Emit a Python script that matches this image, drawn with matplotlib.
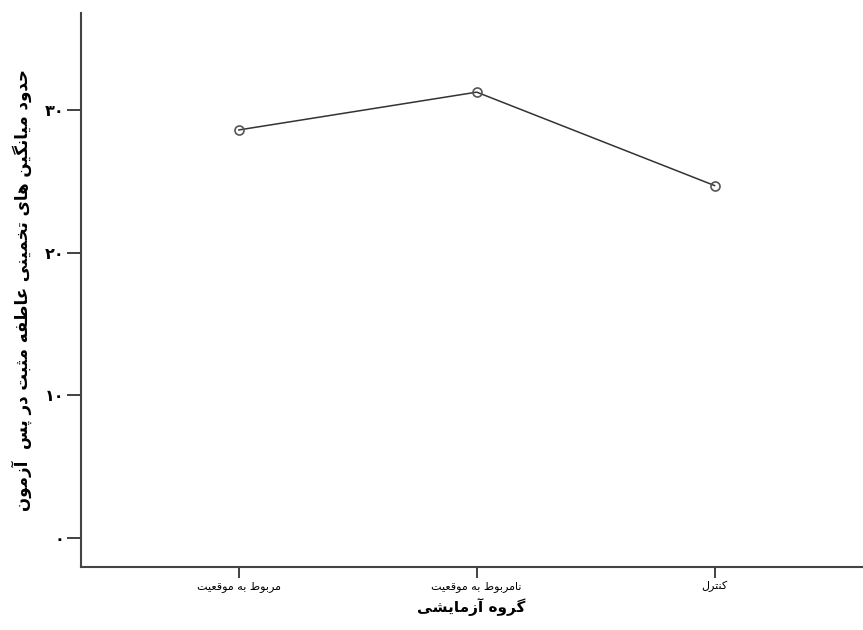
#!/usr/bin/env python3
"""Profile plot: estimated marginal means of positive affect (post-test)."""
import matplotlib
matplotlib.use('Agg')
import matplotlib.pyplot as plt

# data
groups = ['مربوط به موقعیت', 'نامربوط به موقعیت', 'کنترل']
means = [28.6, 31.25, 24.7]
yticks = [0, 10, 20, 30]
ytick_labels = ['۰', '۱۰', '۲۰', '۳۰']
xlabel = 'گروه آزمایشی'
ylabel = 'حدود میانگین های تخمینی عاطفه مثبت در پس  آزمون'

# minimal Persian shaping (matplotlib 3.10 has no complex text layout)
# letter: (isolated, final, initial, medial); None for right-joining only
FORMS = {
    'ا': (0xFE8D, 0xFE8E, None, None), 'آ': (0xFE81, 0xFE82, None, None),
    'ب': (0xFE8F, 0xFE90, 0xFE91, 0xFE92), 'پ': (0xFB56, 0xFB57, 0xFB58, 0xFB59),
    'ت': (0xFE95, 0xFE96, 0xFE97, 0xFE98), 'ث': (0xFE99, 0xFE9A, 0xFE9B, 0xFE9C),
    'ح': (0xFEA1, 0xFEA2, 0xFEA3, 0xFEA4), 'خ': (0xFEA5, 0xFEA6, 0xFEA7, 0xFEA8),
    'د': (0xFEA9, 0xFEAA, None, None), 'ر': (0xFEAD, 0xFEAE, None, None),
    'ز': (0xFEAF, 0xFEB0, None, None), 'س': (0xFEB1, 0xFEB2, 0xFEB3, 0xFEB4),
    'ش': (0xFEB5, 0xFEB6, 0xFEB7, 0xFEB8), 'ط': (0xFEC1, 0xFEC2, 0xFEC3, 0xFEC4),
    'ع': (0xFEC9, 0xFECA, 0xFECB, 0xFECC), 'ف': (0xFED1, 0xFED2, 0xFED3, 0xFED4),
    'ق': (0xFED5, 0xFED6, 0xFED7, 0xFED8), 'ک': (0xFB8E, 0xFB8F, 0xFB90, 0xFB91),
    'گ': (0xFB92, 0xFB93, 0xFB94, 0xFB95), 'ل': (0xFEDD, 0xFEDE, 0xFEDF, 0xFEE0),
    'م': (0xFEE1, 0xFEE2, 0xFEE3, 0xFEE4), 'ن': (0xFEE5, 0xFEE6, 0xFEE7, 0xFEE8),
    'ه': (0xFEE9, 0xFEEA, 0xFEEB, 0xFEEC), 'و': (0xFEED, 0xFEEE, None, None),
    'ی': (0xFBFC, 0xFBFD, 0xFBFE, 0xFBFF),
}

def fa(s):
    out = []
    for i, ch in enumerate(s):
        if ch not in FORMS:
            out.append(ch); continue
        prev = s[i-1] if i > 0 else ''
        nxt = s[i+1] if i + 1 < len(s) else ''
        jp = prev in FORMS and FORMS[prev][2] is not None
        jn = nxt in FORMS and FORMS[ch][2] is not None
        iso, fin, ini, med = FORMS[ch]
        if jp and jn: c = med
        elif jp: c = fin
        elif jn: c = ini
        else: c = iso
        out.append(chr(c))
    return ''.join(out)[::-1]

plt.rcParams['font.family'] = ['DejaVu Sans']
fig = plt.figure(figsize=(8.63, 6.3), dpi=100)
ax = fig.add_axes([81/863, 63/630, (862-81)/863, (567-13)/630])

x = list(range(len(groups)))
ax.plot(x, means, color='#333333', lw=1.1, marker='o', ms=6.5,
        mfc='none', mec='#555555', mew=1.2)

ax.set_xlim(-0.664, 2.62)
ax.set_ylim(-2.05, 36.8)
ax.set_xticks(x)
ax.set_xticklabels([fa(g) for g in groups], fontsize=8)
ax.set_yticks(yticks)
ax.set_yticklabels(ytick_labels, fontsize=11.5, fontweight='bold')
ax.tick_params(axis='y', direction='out', length=10, width=1.3, color='#333333', pad=2)
ax.tick_params(axis='x', direction='out', length=8, width=1.3, color='#333333', pad=2)
for side in ['top', 'right']:
    ax.spines[side].set_visible(False)
for side in ['left', 'bottom']:
    ax.spines[side].set_color('#444444')
    ax.spines[side].set_linewidth(1.5)

ax.set_xlabel(fa(xlabel), fontsize=11, fontweight='bold', labelpad=4)
ax.set_ylabel(fa(ylabel), fontsize=12, fontweight='bold', labelpad=9)

fig.savefig('out.png', dpi=100)
plt.close(fig)
